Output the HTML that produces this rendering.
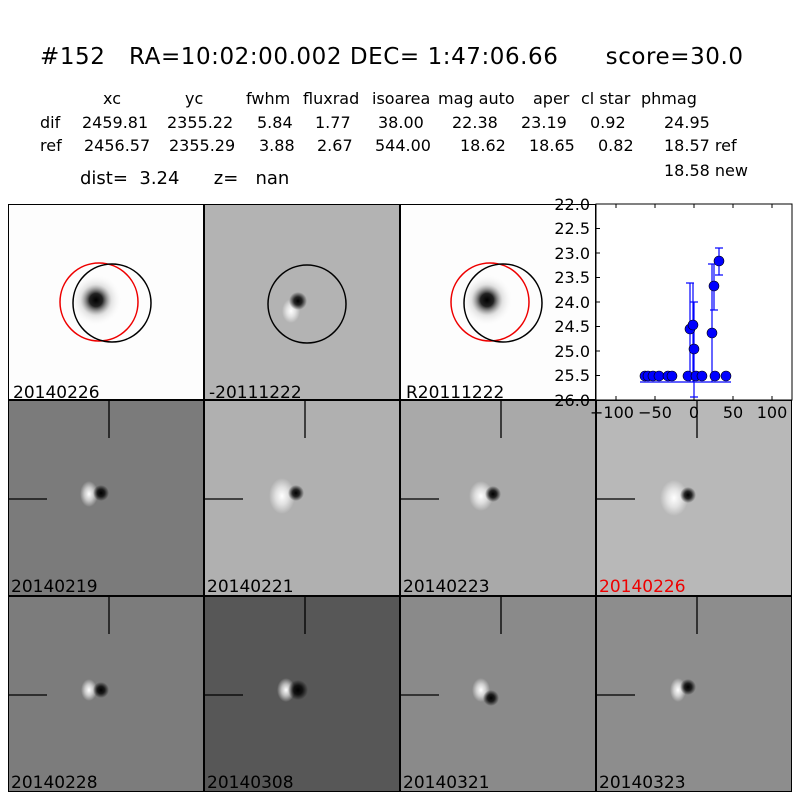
<!DOCTYPE html>
<html><head><style>
body{margin:0;background:#fff;}
svg{display:block;font-family:"DejaVu Sans","Liberation Sans",sans-serif;}
</style></head><body>
<svg width="800" height="800" viewBox="0 0 800 800" xmlns="http://www.w3.org/2000/svg">
<defs>
<radialGradient id="blk"><stop offset="0" stop-color="#000"/><stop offset="0.25" stop-color="#222"/><stop offset="0.6" stop-color="#bbb" stop-opacity="0.4"/><stop offset="1" stop-color="#fff" stop-opacity="0"/></radialGradient>
<radialGradient id="wht"><stop offset="0" stop-color="#fff"/><stop offset="0.5" stop-color="#fff" stop-opacity="0.6"/><stop offset="1" stop-color="#fff" stop-opacity="0"/></radialGradient>
<radialGradient id="dk"><stop offset="0" stop-color="#000"/><stop offset="0.45" stop-color="#000" stop-opacity="0.8"/><stop offset="1" stop-color="#000" stop-opacity="0"/></radialGradient>
</defs>
<text x="40" y="64" font-size="23" textLength="703" xml:space="preserve">#152   RA=10:02:00.002 DEC= 1:47:06.66      score=30.0</text>
<g font-size="16">
<text x="103" y="104">xc</text><text x="185" y="104">yc</text><text x="246" y="104">fwhm</text><text x="303" y="104">fluxrad</text><text x="372" y="104">isoarea</text><text x="438" y="104">mag auto</text><text x="533" y="104">aper</text><text x="581" y="104">cl star</text><text x="641" y="104">phmag</text>
<text x="40" y="128">dif</text><text x="82" y="128">2459.81</text><text x="167" y="128">2355.22</text><text x="257" y="128">5.84</text><text x="315" y="128">1.77</text><text x="378" y="128">38.00</text><text x="452" y="128">22.38</text><text x="521" y="128">23.19</text><text x="590" y="128">0.92</text><text x="664" y="128">24.95</text>
<text x="40" y="151">ref</text><text x="84" y="151">2456.57</text><text x="169" y="151">2355.29</text><text x="259" y="151">3.88</text><text x="317" y="151">2.67</text><text x="375" y="151">544.00</text><text x="460" y="151">18.62</text><text x="529" y="151">18.65</text><text x="598" y="151">0.82</text><text x="664" y="151">18.57 ref</text>
<text x="664" y="176">18.58 new</text>
</g>
<text x="80" y="184" font-size="18" xml:space="preserve">dist=  3.24      z=   nan</text>

<!-- row 1 -->
<rect x="8" y="204" width="196" height="196" fill="#fdfdfd"/>
<circle cx="96" cy="300" r="26" fill="url(#blk)"/>
<circle cx="99" cy="302" r="39" fill="none" stroke="#e00" stroke-width="1.5"/>
<circle cx="112" cy="303" r="39" fill="none" stroke="#000" stroke-width="1.5"/>
<text x="13" y="398" font-size="17">20140226</text>

<rect x="204" y="204" width="196" height="196" fill="#b3b3b3"/>
<ellipse cx="291" cy="311" rx="9" ry="12" fill="url(#wht)"/>
<circle cx="298" cy="301" r="9" fill="url(#dk)"/>
<circle cx="307" cy="304" r="39" fill="none" stroke="#000" stroke-width="1.5"/>
<text x="209" y="398" font-size="17">-20111222</text>

<rect x="400" y="204" width="196" height="196" fill="#fdfdfd"/>
<circle cx="487" cy="300" r="26" fill="url(#blk)"/>
<circle cx="490" cy="302" r="39" fill="none" stroke="#e00" stroke-width="1.5"/>
<circle cx="503" cy="303" r="39" fill="none" stroke="#000" stroke-width="1.5"/>
<text x="406" y="398" font-size="17">R20111222</text>

<!-- plot -->
<rect x="596" y="204" width="196" height="196" fill="#fff" stroke="#000"/>
<g stroke="#000" stroke-width="1">
<line x1="596" y1="228.5" x2="600" y2="228.5"/><line x1="596" y1="253" x2="600" y2="253"/><line x1="596" y1="277.5" x2="600" y2="277.5"/><line x1="596" y1="302" x2="600" y2="302"/><line x1="596" y1="326.5" x2="600" y2="326.5"/><line x1="596" y1="351" x2="600" y2="351"/><line x1="596" y1="375.5" x2="600" y2="375.5"/>
<line x1="616" y1="204" x2="616" y2="208"/><line x1="655" y1="204" x2="655" y2="208"/><line x1="694" y1="204" x2="694" y2="208"/><line x1="733" y1="204" x2="733" y2="208"/><line x1="772" y1="204" x2="772" y2="208"/>
<line x1="616" y1="400" x2="616" y2="396"/><line x1="655" y1="400" x2="655" y2="396"/><line x1="694" y1="400" x2="694" y2="396"/><line x1="733" y1="400" x2="733" y2="396"/><line x1="772" y1="400" x2="772" y2="396"/>
</g>
<g font-size="16" text-anchor="end">
<text x="590" y="210">22.0</text><text x="590" y="234">22.5</text><text x="590" y="259">23.0</text><text x="590" y="283">23.5</text><text x="590" y="308">24.0</text><text x="590" y="332">24.5</text><text x="590" y="357">25.0</text><text x="590" y="381">25.5</text>
</g>
<g stroke="#00f" stroke-width="1.2">
<line x1="690" y1="283" x2="690" y2="382"/><line x1="686" y1="283" x2="694" y2="283"/>
<line x1="693" y1="283" x2="693" y2="382"/>
<line x1="694" y1="302" x2="694" y2="397"/><line x1="690" y1="302" x2="698" y2="302"/><line x1="690" y1="397" x2="698" y2="397"/>
<line x1="712" y1="264" x2="712" y2="382"/><line x1="708" y1="264" x2="716" y2="264"/>
<line x1="714" y1="264" x2="714" y2="310"/><line x1="710" y1="310" x2="718" y2="310"/>
<line x1="719" y1="248" x2="719" y2="275"/><line x1="715" y1="248" x2="723" y2="248"/><line x1="715" y1="275" x2="723" y2="275"/>
<line x1="640" y1="382" x2="731" y2="382"/>
</g>
<g fill="#00f" stroke="#000" stroke-width="0.6">
<circle cx="645" cy="376" r="5"/><circle cx="648" cy="376" r="5"/><circle cx="653" cy="376" r="5"/><circle cx="659" cy="376" r="5"/><circle cx="668" cy="376" r="5"/><circle cx="672" cy="376" r="5"/><circle cx="688" cy="376" r="5"/><circle cx="696" cy="376" r="5"/><circle cx="702" cy="376" r="5"/><circle cx="715" cy="376" r="5"/><circle cx="726" cy="376" r="5"/>
<circle cx="690" cy="329" r="5"/><circle cx="693" cy="325" r="5"/><circle cx="694" cy="349" r="5"/><circle cx="712" cy="333" r="5"/><circle cx="714" cy="286" r="5"/><circle cx="719" cy="261" r="5"/>
</g>

<!-- rows 2,3 -->
<g>
<rect x="8" y="400" width="196" height="196" fill="#7b7b7b"/>
<rect x="204" y="400" width="196" height="196" fill="#b0b0b0"/>
<rect x="400" y="400" width="196" height="196" fill="#a9a9a9"/>
<rect x="596" y="400" width="196" height="196" fill="#b8b8b8"/>
<rect x="8" y="596" width="196" height="196" fill="#7c7c7c"/>
<rect x="204" y="596" width="196" height="196" fill="#575757"/>
<rect x="400" y="596" width="196" height="196" fill="#8a8a8a"/>
<rect x="596" y="596" width="196" height="196" fill="#8d8d8d"/>
</g>
<g>
<ellipse cx="89" cy="494" rx="9" ry="13" fill="url(#wht)"/><circle cx="101" cy="493" r="8" fill="url(#dk)"/>
<ellipse cx="282" cy="496" rx="13" ry="18" fill="url(#wht)"/><circle cx="296" cy="493" r="8" fill="url(#dk)"/>
<ellipse cx="481" cy="496" rx="12" ry="15" fill="url(#wht)"/><circle cx="493" cy="494" r="8" fill="url(#dk)"/>
<ellipse cx="674" cy="498" rx="14" ry="18" fill="url(#wht)"/><circle cx="688" cy="495" r="8" fill="url(#dk)"/>
<ellipse cx="89" cy="690" rx="8" ry="11" fill="url(#wht)"/><circle cx="101" cy="690" r="8" fill="url(#dk)"/>
<ellipse cx="286" cy="690" rx="9" ry="12" fill="url(#wht)"/><circle cx="298" cy="690" r="10" fill="url(#dk)"/>
<ellipse cx="481" cy="690" rx="9" ry="12" fill="url(#wht)"/><circle cx="491" cy="698" r="8" fill="url(#dk)"/>
<ellipse cx="678" cy="690" rx="8" ry="12" fill="url(#wht)"/><circle cx="688" cy="687" r="8" fill="url(#dk)"/>
</g>
<g stroke="#000" stroke-width="1.3">
<line x1="109" y1="400" x2="109" y2="438"/><line x1="8" y1="499" x2="47" y2="499"/>
<line x1="305" y1="400" x2="305" y2="438"/><line x1="204" y1="499" x2="243" y2="499"/>
<line x1="501" y1="400" x2="501" y2="438"/><line x1="400" y1="499" x2="439" y2="499"/>
<line x1="697" y1="400" x2="697" y2="438"/><line x1="596" y1="499" x2="635" y2="499"/>
<line x1="109" y1="596" x2="109" y2="634"/><line x1="8" y1="695" x2="47" y2="695"/>
<line x1="305" y1="596" x2="305" y2="634"/><line x1="204" y1="695" x2="243" y2="695"/>
<line x1="501" y1="596" x2="501" y2="634"/><line x1="400" y1="695" x2="439" y2="695"/>
<line x1="697" y1="596" x2="697" y2="634"/><line x1="596" y1="695" x2="635" y2="695"/>
</g>
<g font-size="17">
<text x="11" y="592">20140219</text><text x="207" y="592">20140221</text><text x="403" y="592">20140223</text><text x="599" y="592" fill="#e00">20140226</text>
<text x="11" y="788">20140228</text><text x="207" y="788">20140308</text><text x="403" y="788">20140321</text><text x="599" y="788">20140323</text>
</g>
<g fill="none" stroke="#000" stroke-width="1">
<rect x="8.5" y="204.5" width="195" height="195"/><rect x="204.5" y="204.5" width="195" height="195"/><rect x="400.5" y="204.5" width="195" height="195"/>
<rect x="8.5" y="400.5" width="195" height="195"/><rect x="204.5" y="400.5" width="195" height="195"/><rect x="400.5" y="400.5" width="195" height="195"/><rect x="596.5" y="400.5" width="195" height="195"/>
<rect x="8.5" y="596.5" width="195" height="195"/><rect x="204.5" y="596.5" width="195" height="195"/><rect x="400.5" y="596.5" width="195" height="195"/><rect x="596.5" y="596.5" width="195" height="195"/>
</g>
<text x="590" y="406" font-size="16" text-anchor="end">26.0</text>
<g font-size="16" text-anchor="middle">
<text x="612" y="418">−100</text><text x="655" y="418">−50</text><text x="694" y="418">0</text><text x="733" y="418">50</text><text x="772" y="418">100</text>
</g>
</svg>
</body></html>
